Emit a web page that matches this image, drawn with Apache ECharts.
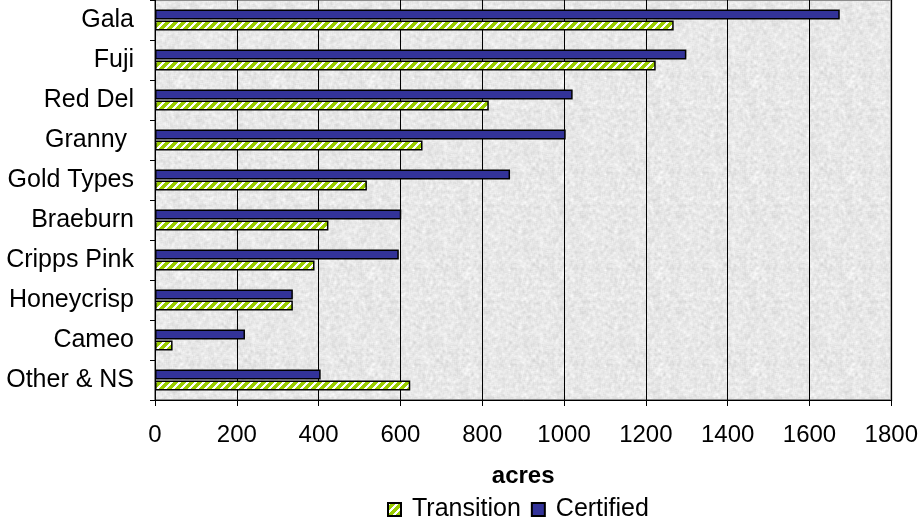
<!DOCTYPE html>
<html>
<head>
<meta charset="utf-8">
<script src="https://cdn.jsdelivr.net/npm/echarts@6/dist/echarts.min.js"></script>
<style>
  html, body { margin: 0; padding: 0; background: #ffffff; }
  #chart { width: 921px; height: 523px; }
</style>
</head>
<body>
<div id="chart"></div>
<script>
// Apple varieties, top to bottom
const categories = ['Gala', 'Fuji', 'Red Del', 'Granny ', 'Gold Types', 'Braeburn', 'Cripps Pink', 'Honeycrisp', 'Cameo', 'Other & NS'];
// Acres per variety
const transition = [1268, 1224, 816, 654, 518, 424, 390, 337, 43, 624];
const certified  = [1674, 1299, 1021, 1004, 868, 602, 596, 337, 220, 405];
// X axis range
const xMin = 0;
const xMax = 1800;
const xStep = 200;

const FONT = '"Liberation Sans", Arial, sans-serif';

// Green fill with white upward diagonal stripes
function stripePattern() {
  const c = document.createElement('canvas');
  const n = 8;
  c.width = n; c.height = n;
  const ctx = c.getContext('2d');
  const img = ctx.createImageData(n, n);
  for (let y = 0; y < n; y++) {
    for (let x = 0; x < n; x++) {
      const i = (y * n + x) * 4;
      const white = ((x + y) % n) < 3;
      img.data[i] = white ? 255 : 0x99;
      img.data[i + 1] = white ? 255 : 0xcc;
      img.data[i + 2] = white ? 255 : 0x00;
      img.data[i + 3] = 255;
    }
  }
  ctx.putImageData(img, 0, 0);
  return c;
}

// Soft grey granite-like texture for the plot background
function graniteTexture() {
  const w = 96, h = 96;
  const c = document.createElement('canvas');
  c.width = w; c.height = h;
  const ctx = c.getContext('2d');
  const hash = (x, y) => {
    const s = Math.sin(((x % w) * 12.9898 + (y % h) * 78.233)) * 43758.5453;
    return s - Math.floor(s);
  };
  const img = ctx.createImageData(w, h);
  for (let y = 0; y < h; y++) {
    for (let x = 0; x < w; x++) {
      let v = 0;
      for (let dy = -1; dy <= 1; dy++)
        for (let dx = -1; dx <= 1; dx++)
          v += hash((x + dx + w) % w, (y + dy + h) % h);
      v /= 9;
      const g = Math.round(202 + v * 58);
      const i = (y * w + x) * 4;
      img.data[i] = g; img.data[i + 1] = g; img.data[i + 2] = g; img.data[i + 3] = 255;
    }
  }
  ctx.putImageData(img, 0, 0);
  return c;
}

const chart = echarts.init(document.getElementById('chart'), null, { renderer: 'canvas' });

chart.setOption({
  animation: false,
  backgroundColor: '#ffffff',
  textStyle: { fontFamily: FONT },
  grid: {
    left: 155, right: 29, top: 0, bottom: 123,
    show: true,
    backgroundColor: { image: graniteTexture(), repeat: 'repeat' },
    borderColor: '#8c8c8c',
    borderWidth: 2
  },
  legend: {
    data: ['Transition', 'Certified'],
    top: 497,
    left: 387,
    padding: 0,
    itemWidth: 13,
    itemHeight: 13,
    itemGap: 10,
    icon: 'rect',
    textStyle: { fontFamily: FONT, fontSize: 25, color: '#000', padding: [0, 0, 0, 6] }
  },
  xAxis: {
    type: 'value',
    min: xMin, max: xMax, interval: xStep,
    name: 'acres',
    nameLocation: 'middle',
    nameGap: 64,
    nameTextStyle: { fontFamily: FONT, fontSize: 24, fontWeight: 'bold', color: '#000' },
    axisLine: { show: true, lineStyle: { color: '#000', width: 1 } },
    axisTick: { show: true, length: 6, lineStyle: { color: '#000' } },
    axisLabel: { fontFamily: FONT, fontSize: 24, color: '#000', margin: 23, formatter: v => String(v) },
    splitLine: { show: true, lineStyle: { color: '#000', width: 1 } }
  },
  yAxis: {
    type: 'category',
    data: categories,
    inverse: true,
    axisLine: { show: true, lineStyle: { color: '#000', width: 1 } },
    axisTick: { show: true, length: 5, inside: false, alignWithLabel: false, lineStyle: { color: '#000' } },
    axisLabel: { fontFamily: FONT, fontSize: 25, color: '#000', margin: 21 },
    splitLine: { show: false }
  },
  series: [
    {
      name: 'Certified',
      type: 'bar',
      data: certified,
      barWidth: 10,
      barGap: '10%',
      itemStyle: { color: '#333399', borderColor: '#000', borderWidth: 1.5 }
    },
    {
      name: 'Transition',
      type: 'bar',
      data: transition,
      barWidth: 10,
      barGap: '10%',
      itemStyle: { color: { image: stripePattern(), repeat: 'repeat' }, borderColor: '#000', borderWidth: 1.5 }
    }
  ]
});
</script>
</body>
</html>
